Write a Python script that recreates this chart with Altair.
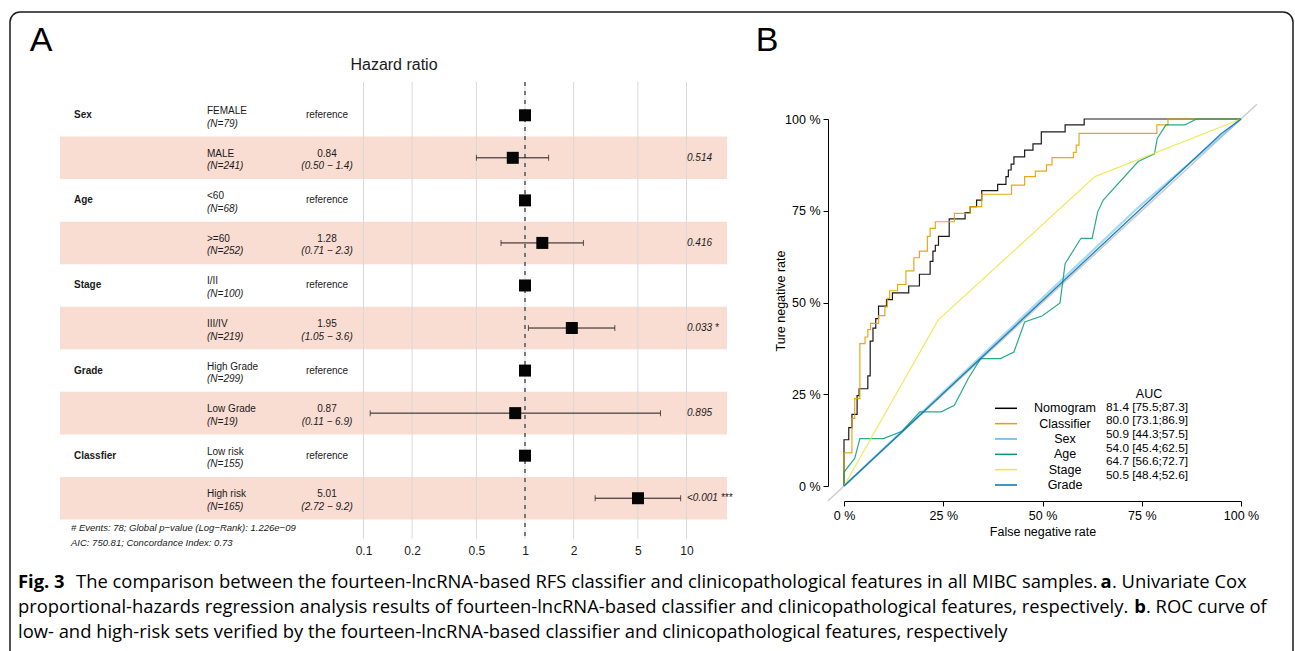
import altair as alt
import pandas as pd

# ---------------- Panel A: univariate Cox forest plot ----------------
var_names = ["Sex", "", "Age", "", "Stage", "", "Grade", "", "Classfier", ""]
level_names = ["FEMALE", "MALE", "<60", ">=60", "I/II", "III/IV",
               "High Grade", "Low Grade", "Low risk", "High risk"]
n_labels = ["(N=79)", "(N=241)", "(N=68)", "(N=252)", "(N=100)", "(N=219)",
            "(N=299)", "(N=19)", "(N=155)", "(N=165)"]
hr_values = [1, 0.84, 1, 1.28, 1, 1.95, 1, 0.87, 1, 5.01]
ci_lower = [None, 0.50, None, 0.71, None, 1.05, None, 0.11, None, 2.72]
ci_upper = [None, 1.4, None, 2.3, None, 3.6, None, 6.9, None, 9.2]
hr_labels = ["reference", "0.84", "reference", "1.28", "reference", "1.95",
             "reference", "0.87", "reference", "5.01"]
ci_labels = ["", "(0.50 − 1.4)", "", "(0.71 − 2.3)", "", "(1.05 − 3.6)",
             "", "(0.11 − 6.9)", "", "(2.72 − 9.2)"]
p_labels = ["", "0.514", "", "0.416", "", "0.033 *", "", "0.895", "", "<0.001 ***"]
hr_ticks = [0.1, 0.2, 0.5, 1, 2, 5, 10]
footnotes = ["# Events: 78; Global p−value (Log−Rank): 1.226e−09",
             "AIC: 750.81; Concordance Index: 0.73"]

# ---------------- Panel B: ROC curves ----------------
nomogram_x = [0, 0, 0.012, 0.02, 0.033, 0.038, 0.06, 0.066, 0.073, 0.08, 0.087, 0.107,
              0.122, 0.163, 0.19, 0.217, 0.224, 0.23, 0.238, 0.265, 0.305, 0.318, 0.334,
              0.347, 0.387, 0.408, 0.414, 0.421, 0.428, 0.455, 0.476, 0.497, 0.557, 0.605, 1.0]
nomogram_y = [0, 0.126, 0.159, 0.195, 0.246, 0.265, 0.30, 0.395, 0.43, 0.456, 0.49, 0.508,
              0.526, 0.545, 0.577, 0.612, 0.64, 0.656, 0.68, 0.728, 0.745, 0.761, 0.779,
              0.805, 0.822, 0.843, 0.861, 0.877, 0.897, 0.915, 0.932, 0.965, 0.984, 1.0, 1.0]
classifier_x = [0, 0, 0.02, 0.027, 0.04, 0.053, 0.06, 0.067, 0.087, 0.103, 0.109, 0.115,
                0.135, 0.156, 0.176, 0.19, 0.21, 0.217, 0.23, 0.278, 0.318, 0.347, 0.422,
                0.455, 0.482, 0.51, 0.524, 0.578, 0.585, 0.592, 0.788, 0.816, 1.0]
classifier_y = [0, 0.09, 0.184, 0.238, 0.388, 0.406, 0.426, 0.443, 0.464, 0.488, 0.511, 0.532,
                0.549, 0.586, 0.622, 0.64, 0.68, 0.702, 0.72, 0.743, 0.761, 0.795, 0.82,
                0.843, 0.858, 0.875, 0.895, 0.909, 0.929, 0.961, 0.984, 1.0, 1.0]
sex_x = [0, 0.74, 1]
sex_y = [0, 0.758, 1]
age_x = [0, 0, 0.027, 0.04, 0.099, 0.146, 0.191, 0.245, 0.278, 0.313, 0.344, 0.394, 0.428,
         0.455, 0.5, 0.544, 0.557, 0.597, 0.625, 0.639, 0.653, 0.741, 0.782, 0.789, 0.811,
         0.859, 0.888, 1.0]
age_y = [0, 0.038, 0.075, 0.129, 0.129, 0.149, 0.202, 0.202, 0.22, 0.293, 0.347, 0.347, 0.365,
         0.447, 0.464, 0.499, 0.606, 0.675, 0.675, 0.747, 0.779, 0.884, 0.905, 0.947, 0.984,
         0.984, 1.0, 1.0]
stage_x = [0, 0.237, 0.632, 1]
stage_y = [0, 0.452, 0.843, 1]
grade_x = [0, 0.95, 1]
grade_y = [0, 0.96, 1]
diag_vals = [-0.04, 1.04]
roc_ticks = [0, 0.25, 0.5, 0.75, 1]

legend_names = ["Nomogram", "Classifier", "Sex", "Age", "Stage", "Grade"]
legend_colors = ["#000000", "#E69F00", "#56B4E9", "#009E73", "#F0E442", "#0072B2"]
auc_labels = ["81.4 [75.5;87.3]", "80.0 [73.1;86.9]", "50.9 [44.3;57.5]",
              "54.0 [45.4;62.5]", "64.7 [56.6;72.7]", "50.5 [48.4;52.6]"]

caption_l1a = "Fig. 3"
caption_l1b = "The comparison between the fourteen-lncRNA-based RFS classifier and clinicopathological features in all MIBC samples."
caption_l1c = "a"
caption_l1d = ". Univariate Cox"
caption_l2a = "proportional-hazards regression analysis results of fourteen-lncRNA-based classifier and clinicopathological features, respectively."
caption_l2b = "b"
caption_l2c = ". ROC curve of"
caption_l3 = "low- and high-risk sets verified by the fourteen-lncRNA-based classifier and clinicopathological features, respectively"

# ---------------- styles ----------------
FONT = "Liberation Sans"
CAP_FONT = "Open Sans"
CAP_SIZE = 18.4
PINK = "#F9DCD2"
W, H = 1295, 651

FX = alt.Scale(type="log", domain=[0.1, 10], range=[363.5, 686.5], nice=False)
FY = alt.Scale(domain=[-0.5, 9.5], range=[94, 519.5], nice=False, zero=False)
RX = alt.Scale(domain=[0, 1], range=[844, 1241], nice=False, zero=False)
RY = alt.Scale(domain=[0, 1], range=[486, 119], nice=False, zero=False)

rows = list(range(len(level_names)))
forest = pd.DataFrame({
    "row": rows, "var": var_names, "level": level_names, "n": n_labels,
    "hr": hr_values, "lo": ci_lower, "hi": ci_upper,
    "hrtxt": hr_labels, "citxt": ci_labels, "p": p_labels,
})
forest["top"] = forest["row"] - 0.5
forest["bottom"] = forest["row"] + 0.5
bands = forest[forest["row"] % 2 == 1]
ci_df = forest.dropna(subset=["lo"])
ref_df = forest[forest["hrtxt"] == "reference"]
est_df = forest[forest["hrtxt"] != "reference"]


def fy(field="row"):
    return alt.Y(f"{field}:Q", scale=FY, axis=None)


def fx(field):
    return alt.X(f"{field}:Q", scale=FX, axis=None)


def txt(df, x, field, size=10, align="left", weight="normal", style="normal", dy=0, color="#1a1a1a"):
    return alt.Chart(df).mark_text(
        align=align, baseline="middle", font=FONT, fontSize=size,
        fontWeight=weight, fontStyle=style, dy=dy, color=color
    ).encode(x=alt.value(x), y=fy(), text=f"{field}:N")


def label(text, x, y, size=12.5, align="center", weight="normal", style="normal",
          font=FONT, angle=0, color="black", baseline="middle"):
    return alt.Chart(pd.DataFrame({"t": [text]})).mark_text(
        align=align, baseline=baseline, font=font, fontSize=size, fontWeight=weight,
        fontStyle=style, angle=angle, color=color
    ).encode(x=alt.value(x), y=alt.value(y), text="t:N")


AXIS_COMMON = dict(labelFont=FONT, labelFlush=False, labelOverlap=False, grid=False,
                   title=None, zindex=2)

layers = []

# frame
layers.append(alt.Chart(pd.DataFrame({"a": [0]})).mark_rect(
    fillOpacity=0, stroke="#1a1a1a", strokeWidth=1.5, cornerRadius=10
).encode(x=alt.value(10), x2=alt.value(1293), y=alt.value(12), y2=alt.value(680)))

# panel letters
layers.append(label("A", 41, 41, size=34))
layers.append(label("B", 767, 41, size=34))

# bands
layers.append(alt.Chart(bands).mark_rect(color=PINK).encode(
    x=alt.value(60), x2=alt.value(727), y=fy("top"), y2="bottom:Q"))

# grid lines + HR axis
layers.append(alt.Chart(pd.DataFrame({"t": hr_ticks})).mark_rule(
    color="#D9D9D9", strokeWidth=1
).encode(
    x=alt.X("t:Q", scale=FX, axis=alt.Axis(
        orient="bottom", offset=-111, values=hr_ticks, format="~g", domain=False,
        ticks=False, labelFontSize=12, labelColor="#1a1a1a", labelPadding=5, **AXIS_COMMON)),
    y=alt.value(82), y2=alt.value(539)))

# reference dashed line
layers.append(alt.Chart(pd.DataFrame({"v": [1]})).mark_rule(
    color="#555555", strokeWidth=1.5, strokeDash=[4, 5]
).encode(x=fx("v"), y=alt.value(82), y2=alt.value(541)))

# CI lines and caps
layers.append(alt.Chart(ci_df).mark_rule(color="#1a1a1a", strokeWidth=1).encode(
    x=fx("lo"), x2="hi:Q", y=fy()))
layers.append(alt.Chart(ci_df).mark_tick(orient="vertical", size=6, thickness=1, color="#1a1a1a").encode(
    x=fx("lo"), y=fy()))
layers.append(alt.Chart(ci_df).mark_tick(orient="vertical", size=6, thickness=1, color="#1a1a1a").encode(
    x=fx("hi"), y=fy()))

# squares
layers.append(alt.Chart(forest).mark_square(size=144, filled=True, color="#050505", opacity=1).encode(
    x=fx("hr"), y=fy()))

# text columns
layers.append(txt(forest, 74, "var", weight="bold"))
layers.append(txt(forest, 207, "level", dy=-4))
layers.append(txt(forest, 207, "n", style="italic", dy=8.5))
layers.append(txt(est_df, 327, "hrtxt", align="center", dy=-4))
layers.append(txt(ref_df, 327, "hrtxt", align="center"))
layers.append(txt(est_df, 327, "citxt", align="center", style="italic", dy=8.5))
layers.append(txt(forest, 687, "p", style="italic"))

# title and footnotes
layers.append(label("Hazard ratio", 394, 65, size=16, color="#1a1a1a"))
layers.append(label(footnotes[0], 71, 528, size=9.5, align="left", style="italic", color="#1a1a1a"))
layers.append(label(footnotes[1], 71, 543, size=9.5, align="left", style="italic", color="#1a1a1a"))

# ROC diagonal with axes
ROC_AXIS = dict(values=roc_ticks, labelExpr="round(datum.value*100) + ' %'", tickSize=5,
                tickColor="black", domainColor="black", domainWidth=1, tickWidth=1,
                labelFontSize=12.5, labelColor="black", labelPadding=3, **AXIS_COMMON)
layers.append(alt.Chart(pd.DataFrame({"x": diag_vals, "y": diag_vals})).mark_line(
    color="#CCCCCC", strokeWidth=1.5
).encode(
    x=alt.X("x:Q", scale=RX, axis=alt.Axis(orient="bottom", offset=-150, **ROC_AXIS)),
    y=alt.Y("y:Q", scale=RY, axis=alt.Axis(orient="left", offset=-828, **ROC_AXIS)),
    order="x:Q"))

series = [
    (nomogram_x, nomogram_y, legend_colors[0], "step-after", 1.2, 0.9),
    (classifier_x, classifier_y, legend_colors[1], "step-after", 1.2, 0.9),
    (sex_x, sex_y, legend_colors[2], "linear", 2.2, 0.5),
    (age_x, age_y, legend_colors[3], "linear", 1.2, 0.85),
    (stage_x, stage_y, legend_colors[4], "linear", 1.2, 0.85),
    (grade_x, grade_y, legend_colors[5], "linear", 1.4, 0.85),
]
for xs, ys, col, interp, sw, op in series:
    d = pd.DataFrame({"x": xs, "y": ys, "i": list(range(len(xs)))})
    layers.append(alt.Chart(d).mark_line(
        color=col, strokeWidth=sw, opacity=op, interpolate=interp
    ).encode(x=alt.X("x:Q", scale=RX, axis=None), y=alt.Y("y:Q", scale=RY, axis=None),
             order="i:Q"))

# ROC legend
leg = pd.DataFrame({"i": list(range(6)), "name": legend_names, "col": legend_colors,
                    "auc": auc_labels})
LY = alt.Scale(domain=[0, 5], range=[408.3, 485], nice=False, zero=False)
AY = alt.Scale(domain=[0, 5], range=[406.7, 475], nice=False, zero=False)
layers.append(alt.Chart(leg).mark_rule(strokeWidth=1.5).encode(
    x=alt.value(995), x2=alt.value(1017), y=alt.Y("i:Q", scale=LY, axis=None),
    color=alt.Color("col:N", scale=None, legend=None)))
layers.append(alt.Chart(leg).mark_text(align="center", baseline="middle", font=FONT,
                                       fontSize=12.5, color="black").encode(
    x=alt.value(1065), y=alt.Y("i:Q", scale=LY, axis=None), text="name:N"))
layers.append(alt.Chart(leg).mark_text(align="left", baseline="middle", font=FONT,
                                       fontSize=11.8, color="black").encode(
    x=alt.value(1106), y=alt.Y("i:Q", scale=AY, axis=None), text="auc:N"))
layers.append(label("AUC", 1149, 393.5, size=12.5))

# ROC axis titles
layers.append(label("Ture negative rate", 781, 301, size=12.5, angle=270))
layers.append(label("False negative rate", 1043, 532, size=12.5))

# caption
layers.append(label(caption_l1a, 18, 582, size=CAP_SIZE, align="left", weight="bold", font=CAP_FONT))
layers.append(label(caption_l1b, 76, 582, size=CAP_SIZE, align="left", font=CAP_FONT))
layers.append(label(caption_l1c, 1106, 582, size=CAP_SIZE, align="center", weight="bold", font=CAP_FONT))
layers.append(label(caption_l1d, 1112, 582, size=CAP_SIZE, align="left", font=CAP_FONT))
layers.append(label(caption_l2a, 18, 607, size=CAP_SIZE, align="left", font=CAP_FONT))
layers.append(label(caption_l2b, 1140, 607, size=CAP_SIZE, align="center", weight="bold", font=CAP_FONT))
layers.append(label(caption_l2c, 1146, 607, size=CAP_SIZE, align="left", font=CAP_FONT))
layers.append(label(caption_l3, 18, 632, size=CAP_SIZE, align="left", font=CAP_FONT))

chart = alt.layer(*layers).resolve_scale(x="independent", y="independent").properties(
    width=W, height=H, autosize=alt.AutoSizeParams(type="none"), padding=0,
    background="white"
).configure_view(stroke=None)

chart.save("out.html", embed_options={"renderer": "svg", "actions": False})
